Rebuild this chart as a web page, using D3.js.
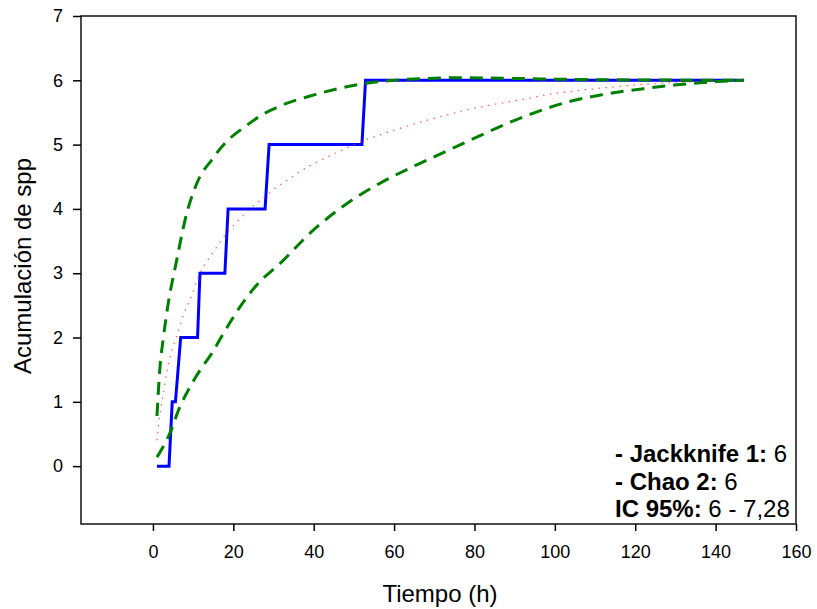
<!DOCTYPE html>
<html lang="es">
<head>
<meta charset="UTF-8">
<title>Acumulación de spp</title>
<script src="https://d3js.org/d3.v7.min.js"></script>
<style>
  body { margin: 0; background: #fff; }
  svg { font-family: "Liberation Sans", Arial, sans-serif; }
  .tick text { font-size: 18px; fill: #000; }
  .tick line, .domain { stroke: #000; }
</style>
</head>
<body>
<div id="chart"></div>
<script>
// observed accumulation (step-like line)
const obsT = [1, 4, 4.8, 5.6, 6.9, 11.1, 11.7, 17.9, 18.7, 27.9, 28.9, 52, 52.9, 147];
const obsY = [0, 0, 1, 1, 2, 2, 3, 3, 4, 4, 5, 5, 6, 6];

// upper 95% bound
const upT = [1, 1.7, 2.6, 3.6, 5.9, 8, 11.3, 14.6, 17.9, 22.9, 27.9, 32, 39.9, 48.2, 56.5, 64.8, 77.3, 88.9, 109.5, 147];
const upY = [0.78, 1.5, 2.0, 2.45, 3.2, 3.83, 4.45, 4.76, 5.02, 5.28, 5.49, 5.61, 5.77, 5.9, 5.98, 6.02, 6.04, 6.03, 6.01, 6.0];

// lower 95% bound
const loT = [1, 4.2, 6.7, 9.2, 11.7, 14.6, 17.5, 21.7, 26, 31.6, 39.9, 48.2, 56.5, 64.8, 73.1, 81.4, 89.7, 94.7, 103, 111.3, 122.1, 130.4, 140.3, 147];
const loY = [0.14, 0.51, 0.92, 1.23, 1.49, 1.75, 2.06, 2.48, 2.83, 3.15, 3.67, 4.08, 4.40, 4.66, 4.90, 5.14, 5.37, 5.49, 5.66, 5.77, 5.87, 5.93, 5.98, 6.0];

// estimator (dotted)
const estT = [1, 1.7, 2.6, 3.4, 4.6, 6.3, 8, 9.2, 11.7, 13.8, 15.9, 17.9, 20, 22.5, 25, 27.9, 30.4, 33.3, 35.8, 41.2, 46.6, 51.5, 56.9, 62.3, 67.7, 73.1, 78.1, 83.5, 88.9, 94.3, 99.3, 104.6, 110, 115.4, 120.4, 125.8, 131.2, 136.2, 147];
const estY = [0.4, 0.79, 1.12, 1.45, 1.77, 2.09, 2.42, 2.58, 3.0, 3.22, 3.41, 3.59, 3.74, 3.9, 4.05, 4.19, 4.32, 4.44, 4.55, 4.74, 4.9, 5.04, 5.16, 5.27, 5.37, 5.46, 5.54, 5.61, 5.67, 5.73, 5.79, 5.83, 5.87, 5.9, 5.93, 5.95, 5.97, 5.98, 6.0];

const xTicks = [0, 20, 40, 60, 80, 100, 120, 140, 160];
const yTicks = [0, 1, 2, 3, 4, 5, 6, 7];

const W = 817, H = 609;
const mLeft = 81, mRight = 796, mTop = 16, mBottom = 524;

const svg = d3.select("#chart").append("svg")
    .attr("width", W)
    .attr("height", H);

const x = d3.scaleLinear().domain([-17.9, 160]).range([mLeft, mRight]);
const y = d3.scaleLinear().domain([-0.9, 7]).range([mBottom, mTop]);

// frame
svg.append("rect")
    .attr("x", mLeft).attr("y", mTop)
    .attr("width", mRight - mLeft).attr("height", mBottom - mTop)
    .attr("fill", "none")
    .attr("stroke", "#111")
    .attr("stroke-width", 1.5);

svg.append("g")
    .attr("transform", `translate(0,${mBottom})`)
    .call(d3.axisBottom(x).tickValues(xTicks).tickSize(7).tickPadding(14).tickSizeOuter(0))
    .call(g => g.select(".domain").remove())
    .call(g => g.selectAll(".tick line").attr("stroke-width", 1.5));

svg.append("g")
    .attr("transform", `translate(${mLeft},0)`)
    .call(d3.axisLeft(y).tickValues(yTicks).tickSize(8).tickPadding(10).tickSizeOuter(0))
    .call(g => g.select(".domain").remove())
    .call(g => g.selectAll(".tick line").attr("stroke-width", 1.5));

function pts(ts, ys) { return ts.map((t, i) => [t, ys[i]]); }

const line = d3.line().x(d => x(d[0])).y(d => y(d[1]));
const smooth = d3.line().x(d => x(d[0])).y(d => y(d[1])).curve(d3.curveMonotoneX);

svg.append("path")
    .datum(pts(obsT, obsY))
    .attr("d", line)
    .attr("fill", "none")
    .attr("stroke", "#0000ff")
    .attr("stroke-width", 3);

svg.append("path")
    .datum(pts(estT, estY))
    .attr("d", smooth)
    .attr("fill", "none")
    .attr("stroke", "#ff3030")
    .attr("stroke-width", 1.2)
    .attr("stroke-dasharray", "1.5,5.5")
    .attr("opacity", 0.8);

[pts(upT, upY), pts(loT, loY)].forEach(d => {
    svg.append("path")
        .datum(d)
        .attr("d", smooth)
        .attr("fill", "none")
        .attr("stroke", "#008000")
        .attr("stroke-width", 3)
        .attr("stroke-dasharray", "13,8");
});

// axis titles
svg.append("text")
    .attr("x", 440)
    .attr("y", 602)
    .attr("text-anchor", "middle")
    .style("font-size", "24px")
    .text("Tiempo (h)");

svg.append("text")
    .attr("transform", "translate(31,266) rotate(-90)")
    .attr("text-anchor", "middle")
    .style("font-size", "24px")
    .text("Acumulación de spp");

// annotation
const notes = [
    ["- Jackknife 1:", " 6"],
    ["- Chao 2:", " 6"],
    ["IC 95%:", " 6 - 7,28"]
];
const noteY = [462, 490, 517];

notes.forEach((n, i) => {
    const t = svg.append("text")
        .attr("x", 615)
        .attr("y", noteY[i])
        .style("font-size", "24px");
    t.append("tspan").attr("font-weight", "bold").text(n[0]);
    t.append("tspan").text(n[1]);
});
</script>
</body>
</html>
